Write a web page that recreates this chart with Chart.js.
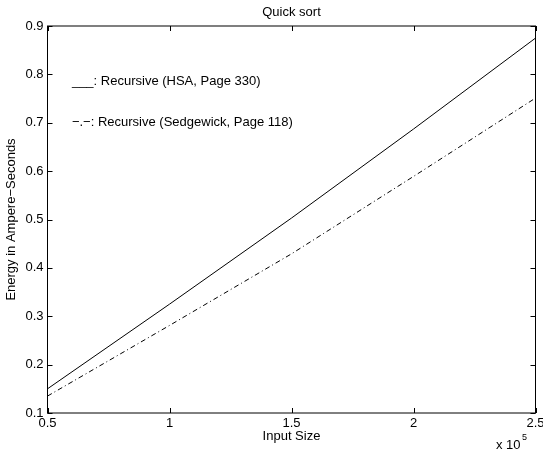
<!DOCTYPE html>
<html>
<head>
<meta charset="utf-8">
<script src="https://cdn.jsdelivr.net/npm/chart.js@4.4.0/dist/chart.umd.min.js"></script>
<style>
    html, body { margin: 0; padding: 0; background: #fff; }
</style>
</head>
<body>
<canvas id="quick-sort" width="543" height="452"></canvas>
<script>
    "use strict";

    // Data (input size in units of 10^5)
    var inputSizes = [0.5, 1, 1.5, 2, 2.5];
    var energyHSA = [0.150, 0.325, 0.503, 0.687, 0.875];
    var energySedgewick = [0.135, 0.281, 0.429, 0.589, 0.751];
    var xTicks = [0.5, 1, 1.5, 2, 2.5];
    var yTicks = [0.1, 0.2, 0.3, 0.4, 0.5, 0.6, 0.7, 0.8, 0.9];
    var notes = ["___: Recursive (HSA, Page 330)", "\u2212.\u2212: Recursive (Sedgewick, Page 118)"];

    var FONT = "Liberation Sans, Arial, Helvetica, sans-serif";

    function points(ys) {
        return inputSizes.map(function (x, i) { return {x: x, y: ys[i]}; });
    }

    // MATLAB style box, inward ticks and text annotations
    var matlabBox = {
        id: "matlabBox",
        afterDraw: function (chart) {
            var c = chart.ctx, a = chart.chartArea;
            var xs = chart.scales.x, ys = chart.scales.y;
            c.save();
            c.strokeStyle = "#000";
            c.lineWidth = 1;
            c.strokeRect(a.left, a.top, a.right - a.left, a.bottom - a.top);
            c.beginPath();
            xTicks.forEach(function (v) {
                var px = Math.round(xs.getPixelForValue(v)) + 0.5;
                c.moveTo(px, a.bottom); c.lineTo(px, a.bottom - 5);
                c.moveTo(px, a.top); c.lineTo(px, a.top + 5);
            });
            yTicks.forEach(function (v) {
                var py = Math.round(ys.getPixelForValue(v)) + 0.5;
                c.moveTo(a.left, py); c.lineTo(a.left + 5, py);
                c.moveTo(a.right, py); c.lineTo(a.right - 5, py);
            });
            c.stroke();

            c.fillStyle = "#000";
            c.textBaseline = "middle";
            c.textAlign = "center";
            c.font = "13px " + FONT;
            c.fillText("Quick sort", (a.left + a.right) / 2, 12);

            c.textAlign = "left";
            c.fillText(notes[0], xs.getPixelForValue(0.6), ys.getPixelForValue(0.785));
            c.fillText(notes[1], xs.getPixelForValue(0.6), ys.getPixelForValue(0.7));

            c.fillText("x 10", 496, 445);
            c.font = "9px " + FONT;
            c.fillText("5", 522, 438);
            c.restore();
        }
    };

    var ctx = document.getElementById("quick-sort").getContext("2d");
    var chart = new Chart(ctx, {
        type: "line",
        data: {
            datasets: [{
                    label: "Recursive (HSA, Page 330)",
                    data: points(energyHSA),
                    borderColor: "#000",
                    borderWidth: 1,
                    pointRadius: 0,
                    fill: false
                },
                {
                    label: "Recursive (Sedgewick, Page 118)",
                    data: points(energySedgewick),
                    borderColor: "#000",
                    borderWidth: 1,
                    borderDash: [5, 3, 1, 3],
                    pointRadius: 0,
                    fill: false
                }
            ]
        },
        options: {
            responsive: false,
            animation: false,
            devicePixelRatio: 1,
            layout: {padding: {left: 0, right: 7.5, top: 26, bottom: 0}},
            plugins: {
                legend: {display: false},
                tooltip: {enabled: false}
            },
            scales: {
                x: {
                    type: "linear",
                    min: 0.5,
                    max: 2.5,
                    afterBuildTicks: function (scale) {
                        scale.ticks = xTicks.map(function (v) { return {value: v}; });
                    },
                    afterFit: function (scale) {
                        scale.height = 39;
                        scale.paddingLeft = 0;
                        scale.paddingRight = 0;
                    },
                    ticks: {
                        color: "#000",
                        padding: 3,
                        maxRotation: 0,
                        font: {family: FONT, size: 13},
                        callback: function (v) { return String(v); }
                    },
                    grid: {display: false, drawTicks: false},
                    border: {display: false},
                    title: {
                        display: true,
                        text: "Input Size",
                        color: "#000",
                        font: {family: FONT, size: 13},
                        padding: {top: 0, bottom: 8}
                    }
                },
                y: {
                    min: 0.1,
                    max: 0.9,
                    afterBuildTicks: function (scale) {
                        scale.ticks = yTicks.map(function (v) { return {value: v}; });
                    },
                    afterFit: function (scale) {
                        scale.width = 47.5;
                    },
                    ticks: {
                        color: "#000",
                        padding: 4,
                        font: {family: FONT, size: 13},
                        callback: function (v) { return v.toFixed(1); }
                    },
                    grid: {display: false, drawTicks: false},
                    border: {display: false},
                    title: {
                        display: true,
                        text: "Energy in Ampere\u2212Seconds",
                        color: "#000",
                        font: {family: FONT, size: 13},
                        padding: {top: 4, bottom: 0}
                    }
                }
            }
        },
        plugins: [matlabBox]
    });
</script>
</body>
</html>
